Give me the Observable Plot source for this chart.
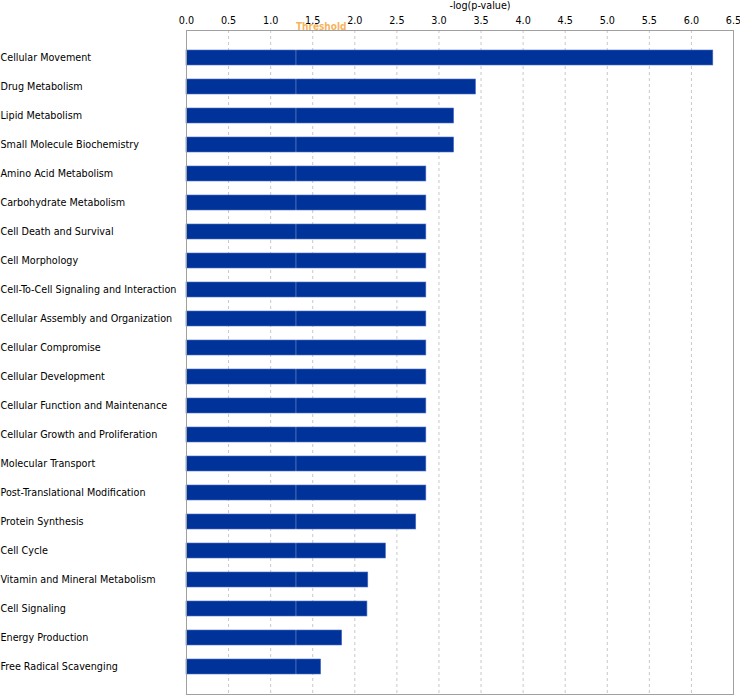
<!DOCTYPE html>
<html>
<head>
<meta charset="utf-8">
<script src="https://cdn.jsdelivr.net/npm/d3@7"></script>
<script src="https://cdn.jsdelivr.net/npm/@observablehq/plot@0.6"></script>
<style>
  html, body { margin: 0; padding: 0; background: #fff; }
  #chart svg { display: block; }
</style>
</head>
<body>
<div id="chart"></div>
<script>
const categories = [
  "Cellular Movement",
  "Drug Metabolism",
  "Lipid Metabolism",
  "Small Molecule Biochemistry",
  "Amino Acid Metabolism",
  "Carbohydrate Metabolism",
  "Cell Death and Survival",
  "Cell Morphology",
  "Cell-To-Cell Signaling and Interaction",
  "Cellular Assembly and Organization",
  "Cellular Compromise",
  "Cellular Development",
  "Cellular Function and Maintenance",
  "Cellular Growth and Proliferation",
  "Molecular Transport",
  "Post-Translational Modification",
  "Protein Synthesis",
  "Cell Cycle",
  "Vitamin and Mineral Metabolism",
  "Cell Signaling",
  "Energy Production",
  "Free Radical Scavenging"
];
const values = [6.26, 3.44, 3.18, 3.18, 2.85, 2.85, 2.85, 2.85, 2.85, 2.85, 2.85,
                2.85, 2.85, 2.85, 2.85, 2.85, 2.73, 2.37, 2.16, 2.15, 1.85, 1.60];
const xTicks = [0, 0.5, 1, 1.5, 2, 2.5, 3, 3.5, 4, 4.5, 5, 5.5, 6, 6.5];
const threshold = 1.3;
const axisTitle = "-log(p-value)";
const thresholdLabel = "Threshold";

const data = categories.map((c, i) => ({category: c, value: values[i]}));

const chart = Plot.plot({
  width: 740,
  height: 696,
  marginLeft: 186,
  marginRight: 7,
  marginTop: 30,
  marginBottom: 2,
  style: {fontFamily: "Tahoma, 'DejaVu Sans Condensed', 'DejaVu Sans', sans-serif", fontSize: "10.7px", color: "#000", background: "#fff"},
  x: {domain: [0, 6.5]},
  y: {domain: categories, paddingInner: 0.484, paddingOuter: 0.662},
  marks: [
    Plot.gridX(xTicks, {stroke: "#c8c8c8", strokeOpacity: 1, strokeDasharray: "3,3"}),
    Plot.barX(data, {x: "value", y: "category", fill: "#003399", stroke: "#4d6fc4", strokeWidth: 0.6}),
    Plot.ruleX([threshold], {stroke: "#ffffff", strokeOpacity: 0.3, strokeWidth: 1}),
    Plot.frame({stroke: "#a0a0a0"}),
    Plot.axisX(xTicks, {anchor: "top", tickSize: 0, tickPadding: 7, tickFormat: d => d.toFixed(1), label: null, fontSize: 10.7, fill: "#000"}),
    Plot.axisY({anchor: "left", tickSize: 0, tickPadding: 0, textAnchor: "start", dx: -186, label: null, fontSize: 10.7, fill: "#000"}),
    Plot.text([thresholdLabel], {x: [threshold], frameAnchor: "top", textAnchor: "start", dy: -8, fill: "#f5a53c", fillOpacity: 0.85, fontWeight: "bold", fontSize: 10}),
    Plot.text([axisTitle], {frameAnchor: "top", dx: 20, dy: -29, fill: "#000", fontSize: 10.7})
  ]
});
document.getElementById("chart").appendChild(chart);
</script>
</body>
</html>
